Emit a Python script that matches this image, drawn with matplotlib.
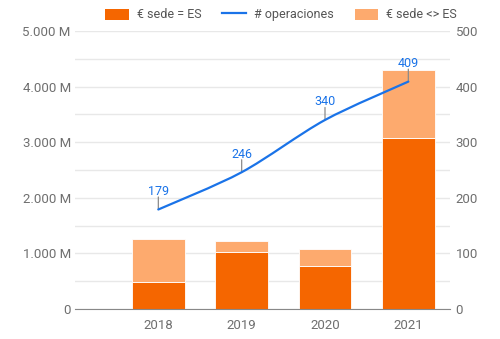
import matplotlib.pyplot as plt
from matplotlib.path import Path
from matplotlib.patches import PathPatch
from matplotlib.lines import Line2D
from matplotlib.patches import Patch
from matplotlib.ticker import FuncFormatter, MultipleLocator

plt.rcParams['font.family'] = ['Roboto', 'DejaVu Sans']

# Data (millions of euros, number of operations)
years = ['2018', '2019', '2020', '2021']
sede_es = [480, 1030, 775, 3080]
sede_otro = [780, 200, 310, 1210]
operaciones = [179, 246, 340, 409]

dark = '#f56600'
light = '#fdaa6e'
blue = '#1a73e8'
grey_txt = '#6f6f6f'

fig = plt.figure(figsize=(5, 3.39), dpi=100)
ax = fig.add_axes([0.15, 0.0885, 0.75, 0.82])
ax2 = ax.twinx()

x = list(range(len(years)))
w = 0.635
ax.bar(x, sede_es, width=w, color=dark, edgecolor='white', linewidth=0.6, zorder=3)
ax.bar(x, sede_otro, width=w, bottom=sede_es, color=light, edgecolor='white',
       linewidth=0.6, zorder=3)

ax.set_xlim(-1, 3.5)
ax.set_ylim(0, 5000)
ax.set_xticks(x)
ax.set_xticklabels(years)
ax.yaxis.set_major_locator(MultipleLocator(1000))
ax.yaxis.set_minor_locator(MultipleLocator(500))
ax.yaxis.set_major_formatter(FuncFormatter(
    lambda v, p: '0' if v == 0 else f'{int(v):,} M'.replace(',', '.')))
ax.grid(True, which='both', axis='y', color='#e8e8e8', linewidth=1, zorder=0)
ax.set_axisbelow(True)
for s in ['top', 'right', 'left']:
    ax.spines[s].set_visible(False)
ax.spines['bottom'].set_color('#888888')
ax.spines['bottom'].set_zorder(4)
ax.tick_params(axis='both', which='both', length=0, colors=grey_txt, labelsize=9.5)
ax.tick_params(axis='y', pad=3)
ax.tick_params(axis='x', pad=7)

# secondary axis: smooth line through the operations counts
ax2.set_ylim(0, 500)
ax2.yaxis.set_major_locator(MultipleLocator(100))
ax2.tick_params(axis='y', length=0, colors=grey_txt, labelsize=9.5, pad=4)
for s in ax2.spines.values():
    s.set_visible(False)

k = 0.9
verts = [(x[0], operaciones[0])]
codes = [Path.MOVETO]
n = len(x)
for i in range(n - 1):
    p0 = (x[max(i - 1, 0)], operaciones[max(i - 1, 0)])
    p1 = (x[i], operaciones[i])
    p2 = (x[i + 1], operaciones[i + 1])
    p3 = (x[min(i + 2, n - 1)], operaciones[min(i + 2, n - 1)])
    c1 = (p1[0] + (p2[0] - p0[0]) * k / 6, p1[1] + (p2[1] - p0[1]) * k / 6)
    c2 = (p2[0] - (p3[0] - p1[0]) * k / 6, p2[1] - (p3[1] - p1[1]) * k / 6)
    verts += [c1, c2, p2]
    codes += [Path.CURVE4] * 3
ax2.add_patch(PathPatch(Path(verts, codes), facecolor='none', edgecolor=blue,
                        linewidth=1.6, zorder=5, capstyle='round'))

for xi, v in zip(x, operaciones):
    ax2.annotate('', xy=(xi, v), xytext=(0, 9), textcoords='offset points',
                 arrowprops=dict(arrowstyle='-', color='#8a8a8a', lw=0.9,
                                 shrinkA=0, shrinkB=0))
    ax2.annotate(str(v), xy=(xi, v), xytext=(0, 10.5), textcoords='offset points',
                 ha='center', va='baseline', color=blue, fontsize=9)

handles = [Patch(facecolor=dark, edgecolor='none'),
           Line2D([0], [0], color=blue, lw=1.6),
           Patch(facecolor=light, edgecolor='none')]
labels = ['€ sede = ES', '# operaciones', '€ sede <> ES']
fig.legend(handles, labels, loc='center', bbox_to_anchor=(0.562, 0.956), ncol=3,
           frameon=False, fontsize=9, labelcolor='#555555', handlelength=1.9,
           handleheight=1.0, columnspacing=1.7, handletextpad=0.6)

plt.savefig('out.png', dpi=100)
